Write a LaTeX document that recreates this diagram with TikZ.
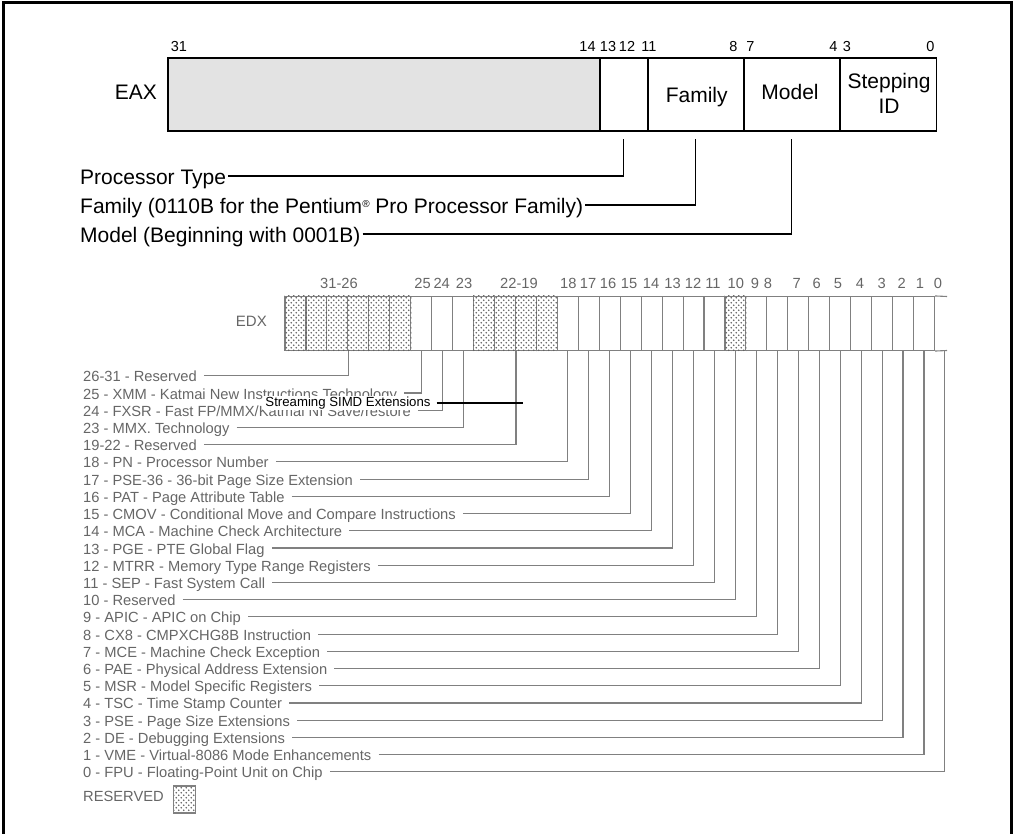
\documentclass[tikz,border=0pt]{standalone}
\usepackage{fontspec}
\setmainfont{Liberation Sans}
\usetikzlibrary{patterns}
\pgfdeclarepatternformonly{resdots}{\pgfpoint{-1pt}{-1pt}}{\pgfpoint{6pt}{6pt}}{\pgfpoint{5pt}{5pt}}{%
  \pgfpathcircle{\pgfpoint{1.25pt}{1.25pt}}{0.9pt}%
  \pgfpathcircle{\pgfpoint{3.75pt}{3.75pt}}{0.9pt}%
  \pgfusepath{fill}}
\newcommand\edxrow[3]{%
  \node[scantxt] (r#1) at (83,{375.8+#1*17.22+6}) {#2};
  \draw[scanline] ([xshift=7pt,yshift=6pt]r#1.base east) -| (#3);
}
\begin{document}
\begin{tikzpicture}[x=1pt,y=-1pt,
  bigtxt/.style={font=\fontsize{21}{24}\selectfont, inner sep=0pt},
  bitnum/.style={font=\fontsize{14.5}{16}\selectfont, inner sep=0pt, anchor=base},
  field/.style={draw, line width=1.8pt, minimum height=73pt, inner sep=0pt, anchor=north west},
  conn/.style={line width=1.1pt},
  scantxt/.style={font=\fontsize{14.7}{16}\selectfont, text=black!60, inner sep=0pt, anchor=base west},
  scannum/.style={font=\fontsize{14.7}{16}\selectfont, text=black!60, inner sep=0pt, anchor=base},
  scanline/.style={draw=black!50, line width=1.1pt},
  cell/.style={draw=black!50, line width=1.1pt, minimum width=20.95pt, minimum height=54pt, inner sep=0pt},
]
\useasboundingbox (0,0) rectangle (1014,834);
% frame
\draw[line width=3pt] (3,834) -- (3,3) -- (1011,3) -- (1011,834);

% ---------- EAX ----------
\node[field, fill=black!11, minimum width=432pt] (res) at (167,57) {};
\node[field, minimum width=48pt] (pt) at (599,57) {};
\node[field, minimum width=95.7pt] (fam) at (647,57) {};
\node[field, minimum width=96pt] (mod) at (742.7,57) {};
\node[field, minimum width=96.8pt] (stepid) at (838.7,57) {};

\node[bigtxt, anchor=base east] (eaxl) at (157,99.5) {EAX};
\node[bigtxt, anchor=base] (famt) at (696.7,102.5) {Family};
\node[bigtxt, anchor=base] (modt) at (790,100) {Model};
\node[bigtxt, anchor=base] (stept) at (889,88.3) {Stepping};
\node[bigtxt, anchor=base] (idt) at (889,114) {ID};

\node[bitnum] (t31) at (179,52) {31};
\node[bitnum] (t14) at (587.5,52) {14};
\node[bitnum] (t13) at (608,52) {13};
\node[bitnum] (t12) at (627,52) {12};
\node[bitnum] (t11) at (649,52) {11};
\node[bitnum] (t8) at (733.5,52) {8};
\node[bitnum] (t7) at (750.5,52) {7};
\node[bitnum] (t4) at (833.5,52) {4};
\node[bitnum] (t3) at (847,52) {3};
\node[bitnum] (t0) at (930.5,52) {0};

\coordinate (ptb) at ([yshift=-7.5pt]pt.south);
\coordinate (famb) at ([yshift=-7.5pt]fam.south);
\coordinate (modb) at ([yshift=-7.5pt]mod.south);

\node[bigtxt, anchor=base west] (ptl) at (80,184.5) {Processor Type};
\node[bigtxt, anchor=base west] (faml) at (80,213.5) {Family (0110B for the Pentium\raisebox{6pt}{\fontsize{10}{10}\selectfont ®} Pro Processor Family)};
\node[bigtxt, anchor=base west] (modl) at (80,242.5) {Model (Beginning with 0001B)};

\draw[conn] ([xshift=2pt,yshift=8.5pt]ptl.base east) -| (ptb);
\draw[conn] ([xshift=2pt,yshift=8.5pt]faml.base east) -| (famb);
\draw[conn] ([xshift=2pt,yshift=8.5pt]modl.base east) -| (modb);

% ---------- EDX ----------
\node[scantxt, anchor=base east, font=\fontsize{15}{16}\selectfont] (edxl) at (267,326.7) {EDX};
\foreach \k in {0,...,30}
  \node[cell] (c\k) at ({285+(\k+0.5)*20.95},323.5) {};
\foreach \k in {0,...,5,9,10,11,12,21}
  \fill[pattern=resdots, pattern color=black!62] (c\k.south west) rectangle (c\k.north east);
\coordinate (c31) at ({285+31.5*20.95},350.5);
\draw[scanline] (c30.north east) -- (947,296.5);
\draw[scanline] (c30.south east) -- (947,350.5);

\foreach \x/\t [count=\i] in {339/31-26, 422.5/25, 441.7/24, 464/23, 519/22-19, 568.3/18,
   588/17, 608/16, 629/15, 651/14, 672.5/13, 693/12, 713/11, 735.8/10, 755/9, 768/8,
   796.7/7, 816.7/6, 838/5, 860/4, 881.7/3, 901.7/2, 920/1, 938/0}
  \node[scannum] (en\i) at (\x,288.3) {\t};

\edxrow{0}{26-31 - Reserved}{c2.south east}
\edxrow{1}{25 - XMM - Katmai New Instructions Technology}{c6.south}
\edxrow{2}{24 - FXSR - Fast FP/MMX/Katmai NI Save/restore}{c7.south}
\edxrow{3}{23 - MMX. Technology}{c8.south}
\edxrow{4}{19-22 - Reserved}{c10.south east}
\edxrow{5}{18 - PN - Processor Number}{c13.south}
\edxrow{6}{17 - PSE-36 - 36-bit Page Size Extension}{c14.south}
\edxrow{7}{16 - PAT - Page Attribute Table}{c15.south}
\edxrow{8}{15 - CMOV - Conditional Move and Compare Instructions}{c16.south}
\edxrow{9}{14 - MCA - Machine Check Architecture}{c17.south}
\edxrow{10}{13 - PGE - PTE Global Flag}{c18.south}
\edxrow{11}{12 - MTRR - Memory Type Range Registers}{c19.south}
\edxrow{12}{11 - SEP - Fast System Call}{c20.south}
\edxrow{13}{10 - Reserved}{c21.south}
\edxrow{14}{9 - APIC - APIC on Chip}{c22.south}
\edxrow{15}{8 - CX8 - CMPXCHG8B Instruction}{c23.south}
\edxrow{16}{7 - MCE - Machine Check Exception}{c24.south}
\edxrow{17}{6 - PAE - Physical Address Extension}{c25.south}
\edxrow{18}{5 - MSR - Model Specific Registers}{c26.south}
\edxrow{19}{4 - TSC - Time Stamp Counter}{c27.south}
\edxrow{20}{3 - PSE - Page Size Extensions}{c28.south}
\edxrow{21}{2 - DE - Debugging Extensions}{c29.south}
\edxrow{22}{1 - VME - Virtual-8086 Mode Enhancements}{c30.south}
\edxrow{23}{0 - FPU - Floating-Point Unit on Chip}{c31}

\node[scantxt] (legt) at (83,801.8) {RESERVED};
\node[draw=black!50, line width=1.1pt, minimum width=22pt, minimum height=27pt, inner sep=0pt,
  pattern=resdots, pattern color=black!62] (legbox) at (184.5,799.5) {};

% Streaming SIMD annotation
\node[font=\fontsize{13.2}{15}\selectfont, fill=white, text height=9.5pt, text depth=2.8pt,
  inner xsep=2pt, inner ysep=0.5pt] (simd) at (348,403) {Streaming SIMD Extensions};
\coordinate (simdend) at (522.6,403);
\draw[line width=1.7pt] ([xshift=4pt]simd.east) -- (simdend);
\end{tikzpicture}
\end{document}
